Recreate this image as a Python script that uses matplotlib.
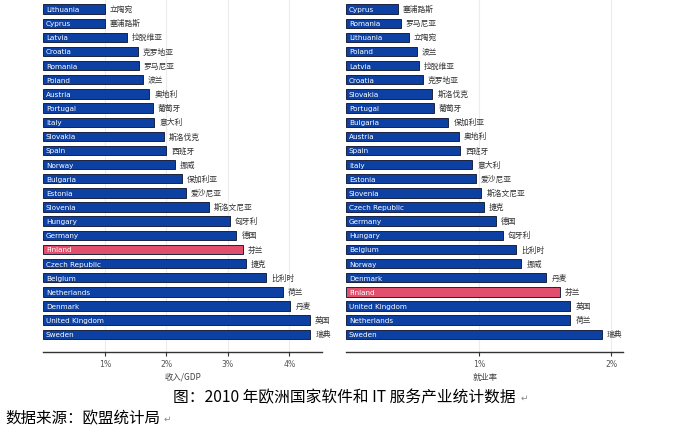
import matplotlib
matplotlib.use('Agg')
import matplotlib.pyplot as plt

plt.rcParams['font.family'] = ['Noto Sans CJK SC', 'DejaVu Sans']

# 收入/GDP (%)
gdp_en = ['Lithuania', 'Cyprus', 'Latvia', 'Croatia', 'Romania', 'Poland', 'Austria',
          'Portugal', 'Italy', 'Slovakia', 'Spain', 'Norway', 'Bulgaria', 'Estonia',
          'Slovenia', 'Hungary', 'Germany', 'Finland', 'Czech Republic', 'Belgium',
          'Netherlands', 'Denmark', 'United Kingdom', 'Sweden']
gdp_cn = ['立陶宛', '塞浦路斯', '拉脱维亚', '克罗地亚', '罗马尼亚', '波兰', '奥地利',
          '葡萄牙', '意大利', '斯洛伐克', '西班牙', '挪威', '保加利亚', '爱沙尼亚',
          '斯洛文尼亚', '匈牙利', '德国', '芬兰', '捷克', '比利时',
          '荷兰', '丹麦', '英国', '瑞典']
gdp_val = [1.0, 1.0, 1.36, 1.54, 1.55, 1.62, 1.72, 1.78, 1.80, 1.96, 2.0, 2.14,
           2.25, 2.32, 2.69, 3.03, 3.14, 3.25, 3.29, 3.62, 3.89, 4.02, 4.34, 4.34]

# 就业率 (%)
emp_en = ['Cyprus', 'Romania', 'Lithuania', 'Poland', 'Latvia', 'Croatia', 'Slovakia',
          'Portugal', 'Bulgaria', 'Austria', 'Spain', 'Italy', 'Estonia', 'Slovenia',
          'Czech Republic', 'Germany', 'Hungary', 'Belgium', 'Norway', 'Denmark',
          'Finland', 'United Kingdom', 'Netherlands', 'Sweden']
emp_cn = ['塞浦路斯', '罗马尼亚', '立陶宛', '波兰', '拉脱维亚', '克罗地亚', '斯洛伐克',
          '葡萄牙', '保加利亚', '奥地利', '西班牙', '意大利', '爱沙尼亚', '斯洛文尼亚',
          '捷克', '德国', '匈牙利', '比利时', '挪威', '丹麦',
          '芬兰', '英国', '荷兰', '瑞典']
emp_val = [0.39, 0.41, 0.47, 0.53, 0.55, 0.58, 0.65, 0.66, 0.77, 0.85, 0.86, 0.95,
           0.98, 1.02, 1.04, 1.13, 1.18, 1.28, 1.32, 1.51, 1.61, 1.69, 1.69, 1.93]

BLUE = '#0c40a2'
PINK = '#e0506c'


def panel(ax, names, cn, vals, xmax, ticks, xlabel):
    n = len(vals)
    pos = list(range(n))
    colors = [PINK if c == 'Finland' else BLUE for c in names]
    ax.barh(pos, vals, height=0.66, color=colors, edgecolor='#1a2440', linewidth=0.7, zorder=3)
    for i, (e, c, v) in enumerate(zip(names, cn, vals)):
        ax.text(0.04 * xmax / 4.5, i, e, color='white', fontsize=5.2, va='center',
                ha='left', zorder=4, family='DejaVu Sans')
        ax.text(v + xmax * 0.018, i, c, color='#333333', fontsize=5.6, va='center', ha='left')
    ax.set_xlim(0, xmax)
    ax.set_ylim(n - 1 + 1.23, -0.71)
    ax.set_xticks(ticks)
    ax.set_xticklabels(['%d%%' % t for t in ticks], fontsize=5.6, color='#555555',
                       family='DejaVu Sans')
    ax.set_yticks([])
    for s in ['top', 'right', 'left']:
        ax.spines[s].set_visible(False)
    ax.spines['bottom'].set_color('#333333')
    ax.spines['bottom'].set_linewidth(1.0)
    ax.tick_params(axis='x', length=3, width=0.8, color='#333333', pad=2)
    ax.grid(axis='x', color='#ececec', linewidth=0.8, zorder=0)
    ax.set_xlabel(xlabel, fontsize=6, color='#444444', labelpad=3)


fig = plt.figure(figsize=(6.74, 4.31), dpi=100)
ax1 = fig.add_axes([0.0645, 0.1817, 0.413, 0.8183])
ax2 = fig.add_axes([0.5138, 0.1817, 0.411, 0.8183])

panel(ax1, gdp_en, gdp_cn, gdp_val, 4.53, [1, 2, 3, 4], '收入/GDP')
panel(ax2, emp_en, emp_cn, emp_val, 2.09, [1, 2], '就业率')

fig.text(0.256, 1 - 398 / 431, '图：2010 年欧洲国家软件和 IT 服务产业统计数据', fontsize=11.3,
         va='center', ha='left', color='black')
fig.text(0.772, 1 - 398 / 431, '↵', fontsize=6.5, va='center', ha='left', color='#888888')
fig.text(0.008, 1 - 419 / 431, '数据来源：欧盟统计局', fontsize=11.2, va='center', ha='left',
         color='black')
fig.text(0.243, 1 - 419 / 431, '↵', fontsize=6.5, va='center', ha='left', color='#888888')

fig.savefig('out.png', dpi=100)
